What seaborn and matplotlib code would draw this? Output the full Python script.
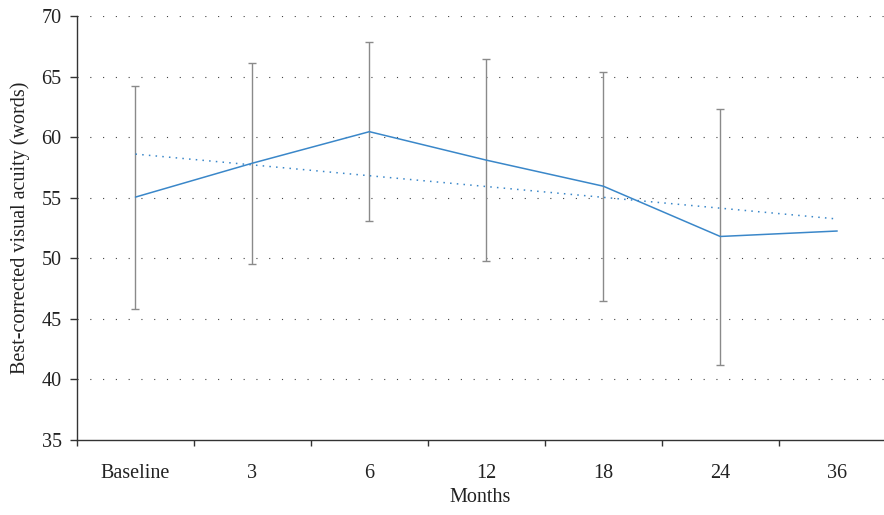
"""Best-corrected visual acuity over follow-up months."""

import numpy as np
import pandas as pd
import matplotlib
matplotlib.use('Agg')
import matplotlib.pyplot as plt
import seaborn as sns

# values
months = ['Baseline', '3', '6', '12', '18', '24', '36']
bcva_mean = [55.05, 57.85, 60.45, 58.1, 55.95, 51.8, 52.25]
bcva_upper = [64.2, 66.1, 67.85, 66.45, 65.4, 62.3, np.nan]
bcva_lower = [45.85, 49.55, 53.05, 49.75, 46.45, 41.2, np.nan]

line_blue = '#3a87c9'
text_col = '#222222'
fs = 14.5

sns.set_style('white')
plt.rcParams['font.family'] = ['Liberation Serif', 'DejaVu Serif']

df = pd.DataFrame({'pos': np.arange(len(months)), 'month': months,
                   'mean': bcva_mean, 'upper': bcva_upper, 'lower': bcva_lower})

fig = plt.figure(figsize=(8.84, 5.15), dpi=100)
ax = fig.add_axes([0.0871, 0.1456, 0.9129, 0.8234])

# dotted horizontal grid
for y in range(40, 71, 5):
    ax.axhline(y, color='#444444', lw=0.8, ls=(0, (1, 10.5)), zorder=0)

# error bars (mean -> upper / lower)
has_err = df.dropna()
ax.errorbar(has_err['pos'], has_err['mean'],
            yerr=[has_err['mean'] - has_err['lower'], has_err['upper'] - has_err['mean']],
            fmt='none', ecolor='#8a8a8a', elinewidth=1.0, capsize=2.9,
            capthick=1.0, zorder=2)

# mean line
sns.lineplot(data=df, x='pos', y='mean', color=line_blue, lw=1.1, ax=ax, zorder=3)

# linear trend of the means
sns.regplot(data=df, x='pos', y='mean', ci=None, scatter=False, ax=ax,
            line_kws={'color': line_blue, 'lw': 1.1, 'ls': (0, (1, 3.4))})

ax.set_xlim(-0.5, 6.4)
ax.set_ylim(35, 70)
ax.set_yticks(range(35, 71, 5))
ax.set_xticks(df['pos'])
ax.set_xticklabels(months)
ax.set_xticks(np.arange(-0.5, 6.0, 1.0), minor=True)
ax.tick_params(which='both', bottom=True, left=True)
ax.tick_params(axis='x', which='major', length=0, pad=17, labelsize=fs, labelcolor=text_col)
ax.tick_params(axis='x', which='minor', length=4, width=1.0, color='#333333', direction='out')
ax.tick_params(axis='y', which='major', length=5, width=1.0, color='#333333', direction='out',
               pad=6, labelsize=fs, labelcolor=text_col)

ax.set_xlabel('Months', fontsize=fs, color=text_col, labelpad=4)
ax.set_ylabel('Best-corrected visual acuity (words)', fontsize=fs, color=text_col, labelpad=8)

for side in ['top', 'right']:
    ax.spines[side].set_visible(False)
for side in ['left', 'bottom']:
    ax.spines[side].set_color('#333333')
    ax.spines[side].set_linewidth(1.0)

fig.savefig('out.png', dpi=100)
